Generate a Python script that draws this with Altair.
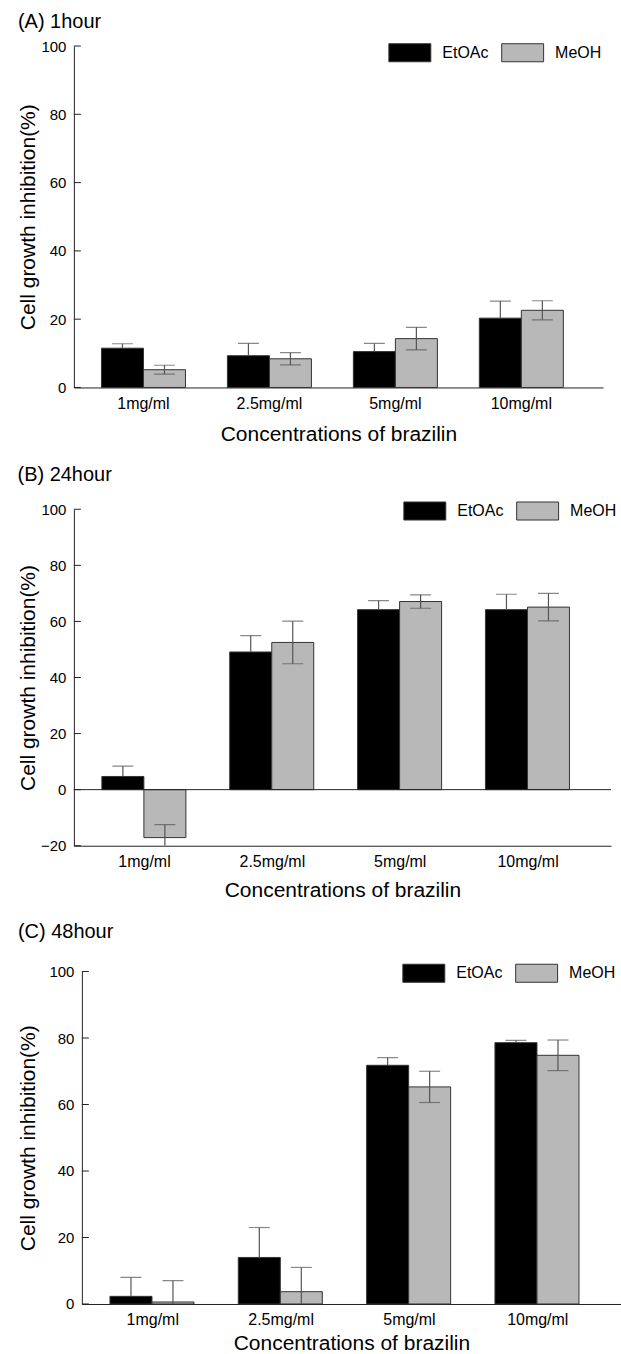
import altair as alt
import pandas as pd

FONT = "Liberation Sans"

concs = ["1mg/ml", "2.5mg/ml", "5mg/ml", "10mg/ml"]
solvents = ["EtOAc", "MeOH"]

# (A) 1 hour
a_etoac = [11.5, 9.3, 10.5, 20.3]
a_etoac_err = [1.3, 3.6, 2.4, 5.0]
a_meoh = [5.2, 8.4, 14.3, 22.6]
a_meoh_err = [1.3, 1.8, 3.3, 2.8]

# (B) 24 hour
b_etoac = [4.7, 49.1, 64.2, 64.2]
b_etoac_err = [3.7, 5.8, 3.2, 5.5]
b_meoh = [-17.1, 52.5, 67.1, 65.1]
b_meoh_err = [4.6, 7.6, 2.4, 4.9]

# (C) 48 hour
c_etoac = [2.3, 14.0, 71.8, 78.6]
c_etoac_err = [5.7, 9.0, 2.3, 0.7]
c_meoh = [0.6, 3.7, 65.3, 74.8]
c_meoh_err = [6.4, 7.3, 4.7, 4.6]

ticks_a = [0, 20, 40, 60, 80, 100]
ticks_b = [-20, 0, 20, 40, 60, 80, 100]
ticks_c = [0, 20, 40, 60, 80, 100]


def make_df(et, et_err, me, me_err):
    rows = []
    for i, c in enumerate(concs):
        rows.append(dict(conc=c, solvent="EtOAc", value=et[i],
                         lo=et[i] - et_err[i], hi=et[i] + et_err[i]))
        rows.append(dict(conc=c, solvent="MeOH", value=me[i],
                         lo=me[i] - me_err[i], hi=me[i] + me_err[i]))
    return pd.DataFrame(rows)


def panel(title, df, ydom, yticks, width, height, toff, lx, ly, ytp, xtp, zero_line=False):
    xenc = alt.X(
        "conc:N", sort=concs,
        scale=alt.Scale(paddingInner=0.333, paddingOuter=0.267, align=0.41),
        axis=alt.Axis(title="Concentrations of brazilin", ticks=False, labelAngle=0,
                      labelFontSize=16, labelPadding=8, titleFontSize=21,
                      titleFontWeight="normal", titlePadding=xtp, domainColor="#222",
                      labelColor="black", titleColor="black"),
    )
    xo = alt.XOffset("solvent:N", sort=solvents,
                     scale=alt.Scale(paddingInner=0, paddingOuter=0))
    yscale = alt.Scale(domain=ydom, nice=False, zero=False)
    yaxis = alt.Axis(values=yticks, ticks=False, grid=False,
                     title="Cell growth inhibition(%)", labelFontSize=15,
                     labelPadding=8, titleFontSize=21, titleFontWeight="normal",
                     titlePadding=ytp, domainColor="#222", labelColor="black",
                     titleColor="black")
    base = alt.Chart(df)
    bars = base.mark_bar(stroke="#333", strokeWidth=1).encode(
        x=xenc, xOffset=xo,
        y=alt.Y("value:Q", scale=yscale, axis=yaxis),
        y2=alt.datum(0),
        fill=alt.Fill("solvent:N",
                      scale=alt.Scale(domain=solvents, range=["#000000", "#b8b8b8"]),
                      legend=alt.Legend(orient="none", legendX=lx, legendY=ly,
                                        direction="horizontal", title=None,
                                        symbolType="M-1,-0.43L1,-0.43L1,0.43L-1,0.43Z",
                                        symbolSize=1764, symbolStrokeColor="#333",
                                        symbolStrokeWidth=1, labelFontSize=16,
                                        labelOffset=11, columnPadding=10, padding=0,
                                        labelColor="black")),
    )
    err_col = "#555555"
    up_rule = base.mark_rule(color=err_col, strokeWidth=1.2, clip=True).encode(
        x=xenc, xOffset=xo, y="value:Q", y2="hi:Q")
    lo_rule = base.transform_filter(alt.datum.solvent == "MeOH").mark_rule(
        color=err_col, strokeWidth=1.2, clip=True).encode(
        x=xenc, xOffset=xo, y="lo:Q", y2="value:Q")
    up_cap = base.mark_tick(color=err_col, thickness=1.2, size=21, clip=True).encode(
        x=xenc, xOffset=xo, y="hi:Q")
    lo_cap = base.transform_filter(alt.datum.solvent == "MeOH").mark_tick(
        color=err_col, thickness=1.2, size=21, clip=True).encode(
        x=xenc, xOffset=xo, y="lo:Q")
    tick_df = pd.DataFrame({"t": yticks})
    yt = alt.Chart(tick_df).mark_rule(color="#222").encode(
        y="t:Q", x=alt.value(0), x2=alt.value(7))
    layers = [bars, up_rule, lo_rule, up_cap, lo_cap, yt]
    if zero_line:
        zl = alt.Chart(pd.DataFrame({"z": [0]})).mark_rule(color="#222").encode(y="z:Q")
        layers.append(zl)
    layered = alt.layer(*layers).properties(
        width=width, height=height,
        title=alt.TitleParams(title, anchor="start", frame="bounds", fontSize=20,
                              fontWeight="normal", offset=toff, color="black", dx=0),
    )
    spacer = alt.Chart(pd.DataFrame({"s": [0]})).mark_point(opacity=0).properties(
        width=1, height=1)
    return alt.hconcat(spacer, layered, spacing=0).resolve_scale(
        fill="independent").resolve_legend(fill="independent")


pa = panel("(A) 1hour", make_df(a_etoac, a_etoac_err, a_meoh, a_meoh_err),
           [0, 100], ticks_a, 530, 342, -1, 315, -15, 2, 12)
pb = panel("(B) 24hour", make_df(b_etoac, b_etoac_err, b_meoh, b_meoh_err),
           [-20, 100], ticks_b, 538, 337, 4, 330, -20, 2, 10, zero_line=True)
pc = panel("(C) 48hour", make_df(c_etoac, c_etoac_err, c_meoh, c_meoh_err),
           [0, 100], ticks_c, 540, 333, 9.5, 321, -20, 10, 5)

chart = alt.concat(pa, pb, pc, columns=1, spacing=21, align="none").resolve_scale(
    x="independent", y="independent", fill="independent"
).resolve_legend(fill="independent").properties(
    padding={"left": 10, "top": 11, "right": 0, "bottom": 0}
).configure(font=FONT).configure_view(stroke=None)

chart.save("out.html", embed_options={"renderer": "svg", "actions": False})
